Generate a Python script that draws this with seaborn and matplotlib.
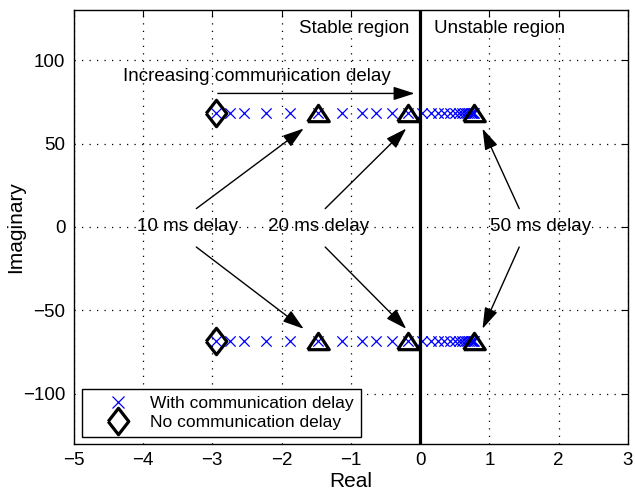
import numpy as np
import pandas as pd
import matplotlib
matplotlib.use("Agg")
import matplotlib.pyplot as plt
from matplotlib.lines import Line2D
import seaborn as sns

# ---- data ----
delays_ms = [0, 2, 4, 6, 8, 10, 12, 14, 16, 18, 20, 22, 24, 26, 28, 30,
             32, 34, 36, 38, 40, 42, 44, 46, 48, 50]
real_with_delay = [-2.94, -2.74, -2.54, -2.23, -1.88, -1.47, -1.13, -0.84, -0.63,
                   -0.41, -0.17, 0.02, 0.15, 0.26, 0.35, 0.43, 0.50, 0.56,
                   0.61, 0.65, 0.68, 0.71, 0.73, 0.75, 0.765, 0.78]
imag_upper = 68.0
no_delay_real = [-2.95, -2.95]
no_delay_imag = [68.0, -68.0]
marked_delays = [10, 20, 50]
marked_real = [-1.47, -0.17, 0.78]
labels_delay = ["10 ms delay", "20 ms delay", "50 ms delay"]
label_x = [-3.36, -1.47, 1.74]
xticks = [-5, -4, -3, -2, -1, 0, 1, 2, 3]
yticks = [-100, -50, 0, 50, 100]

df = pd.DataFrame({
    "Real": real_with_delay + real_with_delay,
    "Imaginary": [imag_upper] * len(real_with_delay) + [-imag_upper] * len(real_with_delay),
})

sns.set_style("white")
plt.rcParams["font.family"] = ["Liberation Sans", "DejaVu Sans"]
plt.rcParams["text.color"] = "black"
plt.rcParams["axes.labelcolor"] = "black"
plt.rcParams["xtick.color"] = "black"
plt.rcParams["ytick.color"] = "black"

fig = plt.figure(figsize=(6.35, 4.94), dpi=100)
ax = fig.add_axes([0.116, 0.1012, 0.873, 0.8786])

# grid
ax.set_xlim(-5, 3)
ax.set_ylim(-130, 130)
ax.set_xticks(xticks)
ax.set_yticks(yticks)
ax.grid(True, color="black", linestyle=(0, (1, 5)), linewidth=0.9)
ax.set_axisbelow(True)

# crosses
sns.scatterplot(data=df, x="Real", y="Imaginary", marker="x", color="blue",
                s=55, linewidth=0.9, ax=ax, zorder=3, legend=False)

diamond = [(-0.39, 0), (0, 0.5), (0.39, 0), (0, -0.5), (-0.39, 0)]
triangle = [(-0.5, -0.38), (0.5, -0.38), (0, 0.38), (-0.5, -0.38)]

ax.plot(no_delay_real, no_delay_imag, linestyle="none", marker=diamond,
        markersize=19, mfc="none", mec="black", mew=2.3, zorder=4)
for xr in marked_real:
    ax.plot([xr, xr], [imag_upper, -imag_upper], linestyle="none", marker=triangle,
            markersize=15.5, mfc="none", mec="black", mew=2.3, zorder=4)

# stability boundary
ax.axvline(0, color="black", linewidth=2.3, zorder=5)

fs = 13.5
ax.text(-0.16, 119, "Stable region", ha="right", va="center", fontsize=fs)
ax.text(0.2, 119, "Unstable region", ha="left", va="center", fontsize=fs)
ax.text(-4.29, 90, "Increasing communication delay", ha="left", va="center", fontsize=fs)

arrow = dict(arrowstyle="-|>,head_length=1.0,head_width=0.32", color="black",
             lw=1.0, shrinkA=0, shrinkB=0, mutation_scale=13)
ax.annotate("", xy=(-0.08, 80), xytext=(-2.92, 80), arrowprops=arrow)

starts_x = [-3.23, -1.37, 1.43]
tips_x = [-1.68, -0.2, 0.9]
for lx, lab, sx, tx in zip(label_x, labels_delay, starts_x, tips_x):
    ax.text(lx, 0, lab, ha="center", va="center", fontsize=fs)
    ax.annotate("", xy=(tx, 59), xytext=(sx, 11), arrowprops=arrow)
    ax.annotate("", xy=(tx, -61), xytext=(sx, -12), arrowprops=arrow)

ax.set_xlabel("Real", fontsize=15, labelpad=2)
ax.set_ylabel("Imaginary", fontsize=15)
ax.yaxis.set_label_coords(-0.088, 0.5)
ax.tick_params(axis="both", direction="in", length=5, width=0.8, labelsize=13.5,
               top=True, right=True, pad=6, colors="black")
for sp in ax.spines.values():
    sp.set_visible(True)
    sp.set_color("black")
    sp.set_linewidth(1.0)

handles = [
    Line2D([], [], linestyle="none", marker="x", color="blue", markersize=9, mew=0.9),
    Line2D([], [], linestyle="none", marker=diamond, markersize=19, mfc="none",
           mec="black", mew=2.3),
]
leg = ax.legend(handles, ["With communication delay", "No communication delay"],
                loc="lower left", bbox_to_anchor=(0.0155, 0.0168), borderaxespad=0,
                fontsize=12.5, frameon=True, fancybox=False, framealpha=1,
                edgecolor="black", handletextpad=0.2, borderpad=0.4,
                labelspacing=0.2, handlelength=3.3)
leg.get_frame().set_linewidth(1.0)
for t in leg.get_texts():
    t.set_color("black")

fig.savefig("out.png", dpi=100)
